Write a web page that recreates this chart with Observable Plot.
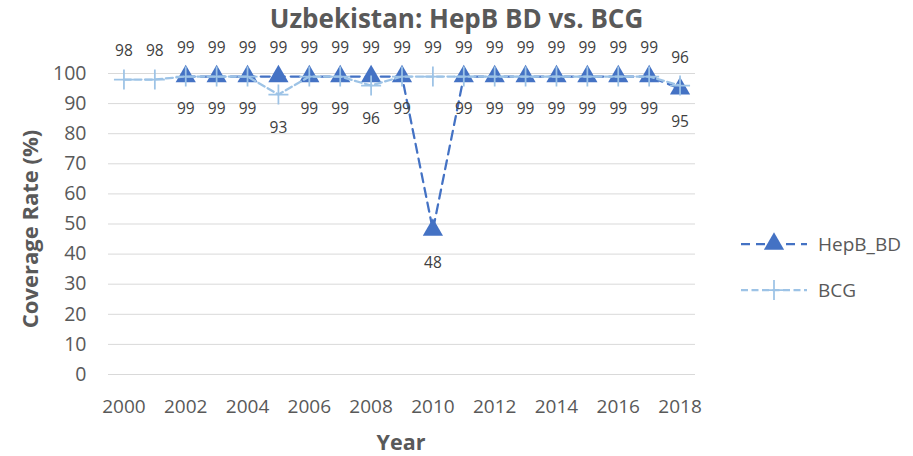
<!DOCTYPE html>
<html>
<head>
<meta charset="utf-8">
<script src="https://cdn.jsdelivr.net/npm/d3@7"></script>
<script src="https://cdn.jsdelivr.net/npm/@observablehq/plot@0.6"></script>
<style>
  html, body { margin: 0; padding: 0; background: #fff; }
  #wrap { position: relative; width: 913px; height: 456px; font-family: "Open Sans", sans-serif; }
  #title { position: absolute; left: 0; width: 913px; top: 4px; text-align: center;
           font-weight: bold; font-size: 26px; color: #595959; line-height: 28px; }
  .leg { position: absolute; left: 740px; display: flex; align-items: center; font-size: 19px; color: #595959; }
  .leg svg { margin-right: 10px; }
</style>
</head>
<body>
<div id="wrap">
  <div id="chart"></div>
  <div id="title">Uzbekistan: HepB BD vs. BCG</div>
  <div class="leg" id="leg1" style="top:230px"></div>
  <div class="leg" id="leg2" style="top:276px"></div>
</div>
<script>
const years = [2000,2001,2002,2003,2004,2005,2006,2007,2008,2009,2010,2011,2012,2013,2014,2015,2016,2017,2018];
const hepbBD = [null,null,99,99,99,99,99,99,99,99,48,99,99,99,99,99,99,99,95];
const bcg    = [98,98,99,99,99,93,99,99,96,99,99,99,99,99,99,99,99,99,96];
const xTicks = [2000,2002,2004,2006,2008,2010,2012,2014,2016,2018];
const yTicks = [0,10,20,30,40,50,60,70,80,90,100];
const seriesNames = ["HepB_BD", "BCG"];
const colors = {HepB_BD: "#4472C4", BCG: "#9DC3E6"};

const hepbRows = years.map((year, i) => ({year, value: hepbBD[i]})).filter(d => d.value != null);
const bcgRows = years.map((year, i) => ({year, value: bcg[i]})).filter(d => d.value != null);

// label placement: higher value above, lower below (ties: BCG above, HepB below)
const labelsAbove = [], labelsBelow = [];
years.forEach((year, i) => {
  const h = hepbBD[i], b = bcg[i];
  if (h == null) { labelsAbove.push({year, value: b}); return; }
  if (b >= h) { labelsAbove.push({year, value: b}); labelsBelow.push({year, value: h}); }
  else { labelsAbove.push({year, value: h}); labelsBelow.push({year, value: b}); }
});

const plusSymbol = {
  draw(context, size) {
    const r = Math.sqrt(size / Math.PI);
    context.moveTo(-r, 0); context.lineTo(r, 0);
    context.moveTo(0, -r); context.lineTo(0, r);
  }
};

const chart = Plot.plot({
  width: 913,
  height: 456,
  marginLeft: 108,
  marginRight: 218,
  marginTop: 73,
  marginBottom: 82,
  style: {fontFamily: "Open Sans, sans-serif", color: "#595959", background: "white"},
  x: {type: "linear", domain: [1999.5, 2018.5]},
  y: {domain: [0, 100]},
  marks: [
    Plot.gridY(yTicks, {stroke: "#d9d9d9", strokeOpacity: 1, strokeWidth: 1}),
    Plot.axisY(yTicks, {tickSize: 0, tickPadding: 22, fontSize: 19.5, label: null}),
    Plot.axisX(xTicks, {tickSize: 0, tickPadding: 25, fontSize: 19, label: null, tickFormat: d => String(d)}),
    Plot.line(hepbRows, {x: "year", y: "value", stroke: colors.HepB_BD, strokeWidth: 2.25, strokeDasharray: "9,6"}),
    Plot.dot(hepbRows, {x: "year", y: "value", symbol: "triangle", r: 7.5, fill: colors.HepB_BD, stroke: "none"}),
    Plot.line(bcgRows, {x: "year", y: "value", stroke: colors.BCG, strokeWidth: 2.25, strokeDasharray: "7,3.5"}),
    Plot.dot(bcgRows, {x: "year", y: "value", symbol: plusSymbol, r: 10, stroke: colors.BCG, strokeWidth: 1.75, fill: "none"}),
    Plot.text(labelsAbove, {x: "year", y: "value", text: d => String(d.value), dy: -28, fontSize: 15.5, fill: "#404040"}),
    Plot.text(labelsBelow, {x: "year", y: "value", text: d => String(d.value), dy: 33, fontSize: 15.5, fill: "#404040"}),
    Plot.text(["Coverage Rate (%)"], {frameAnchor: "left", textAnchor: "middle", lineAnchor: "middle", rotate: -90, dx: -78, dy: 5, fontSize: 22, fontWeight: "bold", fill: "#595959"}),
    Plot.text(["Year"], {frameAnchor: "bottom", textAnchor: "middle", lineAnchor: "middle", dy: 69, dx: -1, fontSize: 21.5, fontWeight: "bold", fill: "#595959"})
  ]
});
document.getElementById("chart").appendChild(chart);

function legendItem(id, name, dash, symbol) {
  const c = colors[name];
  const sym = symbol === "triangle"
    ? `<path d="${d3.symbol(d3.symbolTriangle, Math.PI * 7.5 * 7.5)()}" transform="translate(34,14)" fill="${c}"/>`
    : `<path d="M24,14H44M34,4V24" stroke="${c}" stroke-width="1.75" fill="none"/>`;
  document.getElementById(id).innerHTML =
    `<svg width="68" height="28"><line x1="1" x2="67" y1="14" y2="14" stroke="${c}" stroke-width="2.25" stroke-dasharray="${dash}"/>${sym}</svg><span>${name}</span>`;
}
legendItem("leg1", seriesNames[0], "9,6", "triangle");
legendItem("leg2", seriesNames[1], "7,3.5", "plus");
</script>
</body>
</html>
